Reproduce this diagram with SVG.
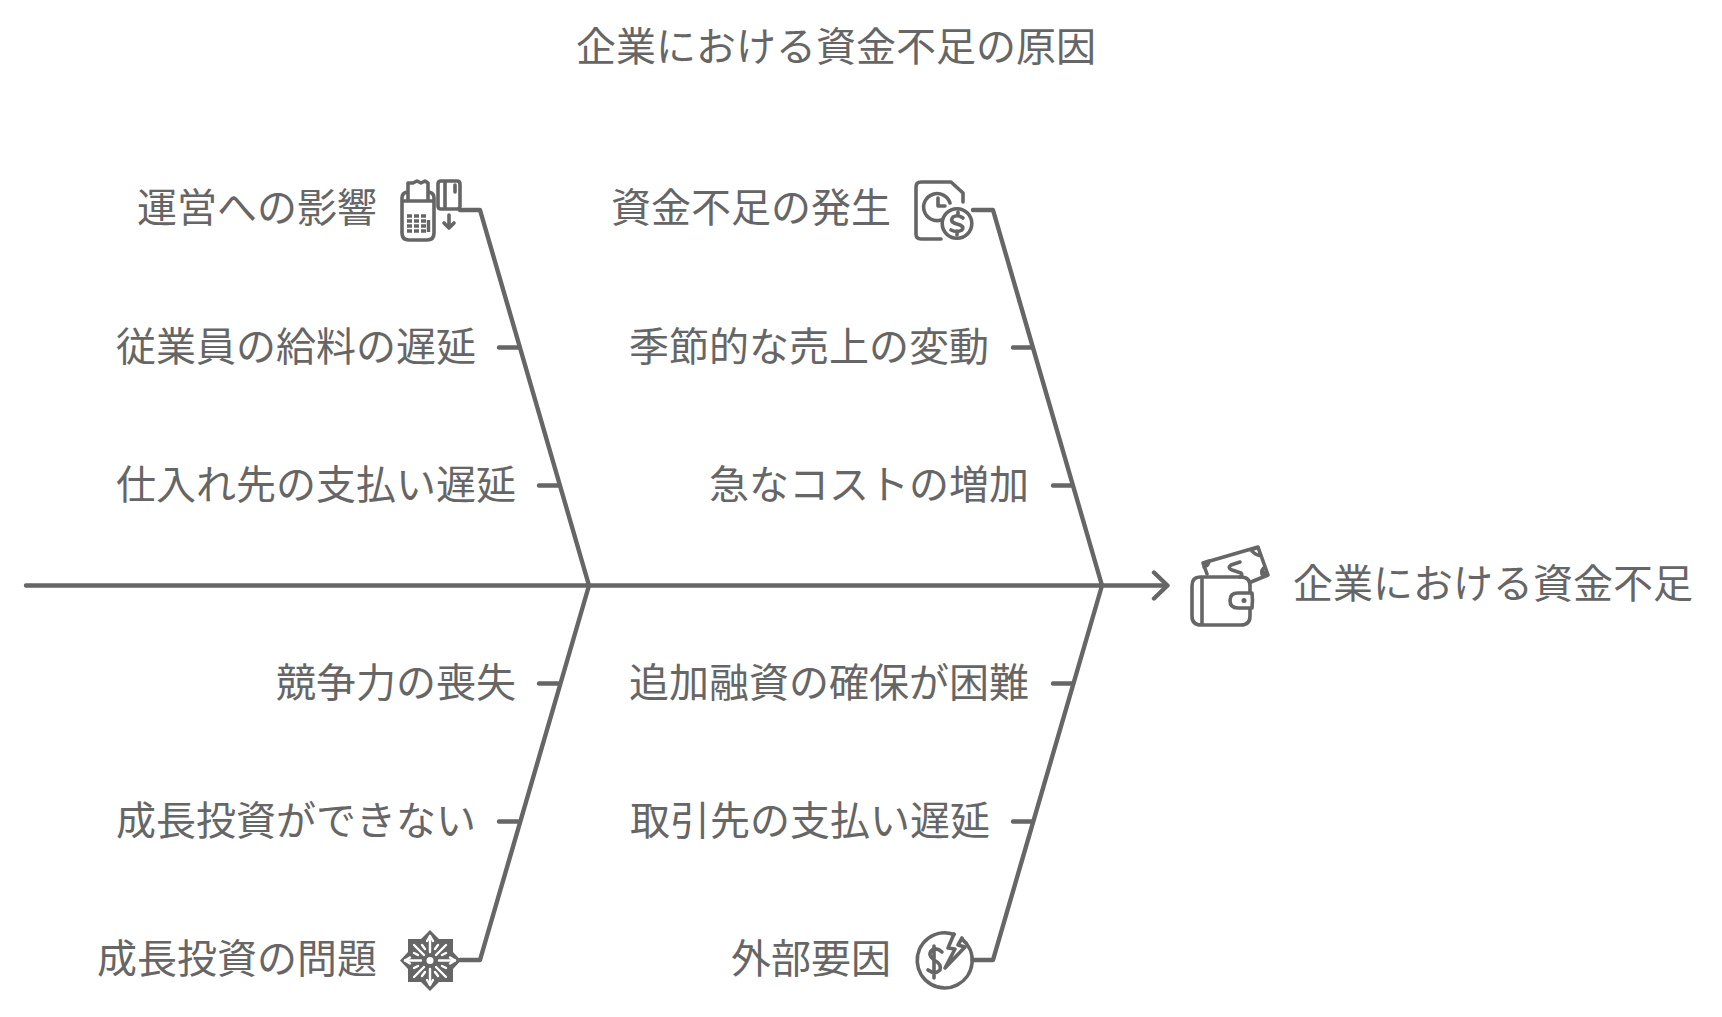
<svg xmlns="http://www.w3.org/2000/svg" width="1722" height="1017" viewBox="0 0 1722 1017">
<style>
text{font-family:"Noto Sans CJK JP","Noto Sans",sans-serif;font-size:40px;fill:#666}
.l{fill:none;stroke:#666;stroke-width:4.400;stroke-linecap:round;stroke-linejoin:round}
.i{fill:none;stroke:#666;stroke-width:3.600;stroke-linecap:round;stroke-linejoin:round}
.t{fill:none;stroke:#666;stroke-width:3.400;stroke-linecap:butt}
.w{fill:none;stroke:#fff;stroke-width:2.400;stroke-linecap:round;stroke-linejoin:round}
.f{fill:#666;stroke:none}
</style>
<rect width="1722" height="1017" fill="#fff"/>
<g id="title"><text x="836" y="61" text-anchor="middle">企業における資金不足の原因</text></g>
<g id="connectors">
<path class="l" d="M26 585.500H1166M1154 572.500L1167.500 585.500L1154 598.500"/>
<path class="l" d="M460 210H480L589 585.500L480 960H460"/>
<path class="l" d="M973 210H993L1102 585.500L993 960H973"/>
<path class="l" d="M499 347.500H518M539 485.500H558M1013 347.500H1032M1053 485.500H1072M539 683.500H558M499 821.500H518M1053 683.500H1072M1013 821.500H1032"/>
</g>
<g id="n-effect"><text x="1293" y="598">企業における資金不足</text>
<path class="i" d="M1207 574L1203 563L1258 547L1268 575L1251 582M1203 563L1209 561Q1209 565 1204 567M1251 550L1258 547L1261 556Q1255 555 1251 550M1267 572L1262 574Q1261 570 1265 567"/>
<path class="i" d="M1240 562L1231 565Q1227 568 1232 570L1241 573Q1243 575 1240 577"/>
<path class="i" d="M1200 577H1241Q1250 577 1250 586V592M1250 609V616Q1250 625 1241 625H1201Q1192 625 1192 616V586Q1192 577 1200 577M1202 578V624"/>
<path class="i" d="M1252 593H1238Q1230 593 1230 600.500Q1230 608 1238 608H1252Q1253 600 1252 593Z"/>
<circle class="f" cx="1244" cy="600.500" r="2.500"/>
</g>
<g id="n-impact"><text x="137" y="222">運営への影響</text></g>
<g id="icon-impact">
<path class="i" d="M407 192Q402 193 402 198V233Q402 240 409 240H427Q434 240 434 233V198Q434 193 429 192M402 201H434M408 199V183L413 183L417 181L421 183L425 181L428 183V199"/>
<path class="i" d="M441 181H457Q460 181 460 184V206Q460 209 457 209H441Q438 209 438 206V184Q438 181 441 181ZM445 182V208"/>
<path class="i" d="M455 185V192"/>
<path class="i" d="M449 215V228M444 223L449 228L454 223"/>
<path class="t" d="M407 216H412M414 216H419M421 216H426M407 221H412M414 221H419M421 221H426M407 226H412M414 226H419M421 226H426M407 231H412M414 231H419M421 231H426M428.500 220V232"/>
</g>
<g id="n-impact1"><text x="116" y="361">従業員の給料の遅延</text></g>
<g id="n-impact2"><text x="116" y="499">仕入れ先の支払い遅延</text></g>
<g id="n-start"><text x="611" y="222">資金不足の発生</text></g>
<g id="icon-start">
<path class="i" d="M941 239H921Q916 239 916 234V187Q916 182 921 182H951L963 193V202"/>
<path class="i" d="M941 220A13.500 13.500 0 1 1 950 203"/>
<path class="i" d="M938 198V206H945"/>
<circle class="i" cx="957" cy="223.500" r="14.800"/>
<path class="i" d="M963 218Q958 214 953 217Q949 222 957 224Q965 226 962 230Q957 233 951 230M958 212V216M957 231V235"/>
</g>
<g id="n-s1"><text x="629" y="361">季節的な売上の変動</text></g>
<g id="n-s2"><text x="709" y="499">急なコストの増加</text></g>
<g id="n-b1"><text x="276" y="697">競争力の喪失</text></g>
<g id="n-b2"><text x="116" y="835">成長投資ができない</text></g>
<g id="n-growth"><text x="97" y="973">成長投資の問題</text></g>
<g id="icon-growth">
<path class="f" d="M430 930L439 939H453V952L461 960.500L453 969V982H439L430 991L421 982H408V969L400 960.500L408 952V939H421Z"/>
<path class="w" d="M430 936V952M430 969V985M405 960.500H421M439 960.500H455M414 945L424 955M436 967L446 977M446 945L436 955M424 967L414 977"/>
<path class="w" d="M427 941L430 936L433 941M427 980L430 985L433 980M410 957.500L405 960.500L410 963.500M450 957.500L455 960.500L450 963.500"/>
<path class="w" stroke-width="1.800" d="M422 945L425 949M438 945L435 949M422 976L425 972M438 976L435 972M414 953L418 955M446 953L442 955M414 968L418 966M446 968L442 966"/>
<circle cx="430" cy="960.500" r="3.500" fill="#fff"/>
</g>
<g id="n-c1"><text x="629" y="697">追加融資の確保が困難</text></g>
<g id="n-c2"><text x="630" y="835">取引先の支払い遅延</text></g>
<g id="n-external"><text x="731" y="973">外部要因</text></g>
<g id="icon-external">
<path class="i" d="M954 934.500A27.500 27.500 0 1 0 962 939"/>
<path class="i" d="M954 934L948 948L955 949L945 968L965 947L958 945L962 938"/>
<path class="i" stroke-width="4.800" d="M942 952Q937 947 932 950Q927 955 934 960Q942 964 940 970Q935 975 928 970M934 946V978"/>
</g>
</svg>
